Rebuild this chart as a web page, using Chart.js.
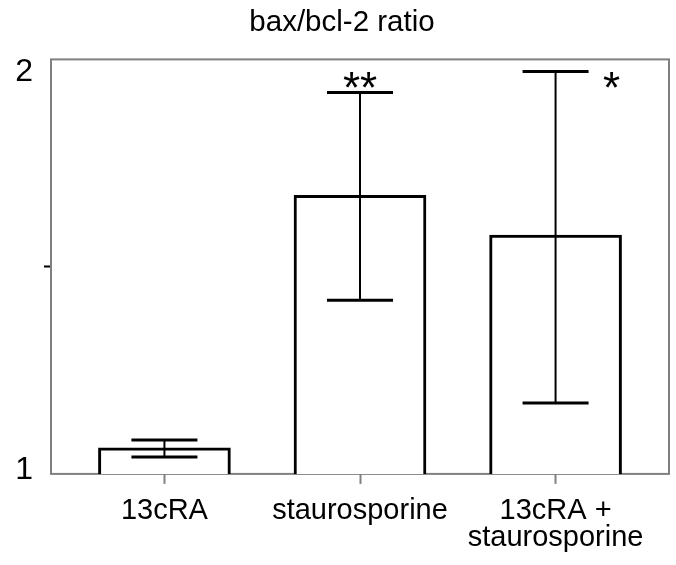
<!DOCTYPE html>
<html lang="en">
<head>
  <meta charset="UTF-8" />
  <title>bax/bcl-2 ratio</title>
  <script src="https://cdn.jsdelivr.net/npm/chart.js"></script>
  <style>
    * { margin: 0; padding: 0; box-sizing: border-box; }
    body { background: #ffffff; }
    .chart-box { width: 676px; height: 565px; }
  </style>
</head>
<body>
  <div class="chart-box">
    <canvas id="ratioChart"></canvas>
  </div>
  <script>
    // groups on the x axis (last one split over two lines)
    const treatments = ['13cRA', 'staurosporine', ['13cRA +', 'staurosporine']];
    // mean bax/bcl-2 ratio and the ends of each error bar
    const ratioMean  = [1.063, 1.672, 1.576];
    const ratioUpper = [1.082, 1.920, 1.971];
    const ratioLower = [1.041, 1.419, 1.171];
    // significance marks per group
    const significance = ['', '**', '*'];
    // y ticks, only the ends are labelled
    const yTicks  = [1, 1.5, 2];
    const yLabels = ['1', '', '2'];

    Chart.defaults.font.family = '"Liberation Sans", Arial, sans-serif';
    Chart.defaults.color = '#000000';

    // grey box round the plot area
    const plotFrame = {
      id: 'plotFrame',
      beforeDatasetsDraw(chart) {
        const { ctx, chartArea: a } = chart;
        ctx.save();
        ctx.strokeStyle = '#808080';
        ctx.lineWidth = 2;
        ctx.strokeRect(a.left, a.top, a.right - a.left, a.bottom - a.top);
        ctx.restore();
      }
    };

    // error bars and asterisks
    const errorBars = {
      id: 'errorBars',
      afterDatasetsDraw(chart) {
        const { ctx, scales: { x, y } } = chart;
        const capHalf = 33;
        ctx.save();
        ctx.strokeStyle = '#000000';
        ratioMean.forEach((m, i) => {
          const cx = x.getPixelForValue(i);
          const top = y.getPixelForValue(ratioUpper[i]);
          const bottom = y.getPixelForValue(ratioLower[i]);
          ctx.lineWidth = 2;
          ctx.beginPath();
          ctx.moveTo(cx, top);
          ctx.lineTo(cx, bottom);
          ctx.stroke();
          ctx.lineWidth = 3;
          ctx.beginPath();
          ctx.moveTo(cx - capHalf, top);
          ctx.lineTo(cx + capHalf, top);
          ctx.moveTo(cx - capHalf, bottom);
          ctx.lineTo(cx + capHalf, bottom);
          ctx.stroke();
        });

        ctx.fillStyle = '#000000';
        ctx.font = '44px "Liberation Sans", Arial, sans-serif';
        ctx.textAlign = 'center';
        ctx.textBaseline = 'middle';
        const rowY = chart.chartArea.top + 31;
        significance.forEach((s, i) => {
          if (!s) return;
          const cx = x.getPixelForValue(i);
          const capY = y.getPixelForValue(ratioUpper[i]);
          // above the cap if there is room, else to its right
          const sx = capY > rowY ? cx : cx + capHalf + 23;
          ctx.fillText(s, sx, rowY);
        });
        ctx.restore();
      }
    };

    const chart = new Chart(document.getElementById('ratioChart'), {
      type: 'bar',
      data: {
        datasets: [{
          data: ratioMean.map((m, i) => ({ x: i, y: m })),
          backgroundColor: '#ffffff',
          borderColor: '#000000',
          borderWidth: 3,
          borderSkipped: false,
          barThickness: 132
        }]
      },
      options: {
        responsive: true,
        maintainAspectRatio: false,
        animation: false,
        layout: { padding: { left: 15, right: 7, top: 0, bottom: 0 } },
        plugins: {
          legend: { display: false },
          tooltip: { enabled: false },
          title: {
            display: true,
            text: 'bax/bcl-2 ratio',
            font: { size: 29.5, weight: 'normal' },
            color: '#000000',
            padding: { top: 5, bottom: 19 }
          }
        },
        scales: {
          x: {
            type: 'linear',
            min: -0.58,
            max: 2.58,
            offset: false,
            afterBuildTicks: s => { s.ticks = treatments.map((t, i) => ({ value: i })); },
            grid: { offset: false, drawOnChartArea: false, tickLength: 10, tickWidth: 2, tickColor: '#808080' },
            border: { display: false },
            ticks: {
              autoSkip: false,
              maxRotation: 0,
              padding: 13,
              font: { size: 29, lineHeight: 0.95 },
              callback: v => treatments[v]
            }
          },
          y: {
            min: 1,
            max: 2,
            beginAtZero: false,
            afterBuildTicks: s => { s.ticks = yTicks.map(v => ({ value: v })); },
            afterFit: s => { s.width = 36; },
            grid: {
              drawOnChartArea: false,
              tickLength: 7,
              tickWidth: 2,
              tickColor: c => (yLabels[c.index] ? 'rgba(0,0,0,0)' : '#000000')
            },
            border: { display: false },
            ticks: {
              padding: 11,
              // top label hangs below the top edge, bottom label sits just above the base
              callback: (v, i) => i === 0 ? [yLabels[i], ''] : i === yTicks.length - 1 ? ['', yLabels[i]] : yLabels[i],
              font: c => ({ size: 32, lineHeight: c.index === 0 ? '8px' : '26px' })
            }
          }
        }
      },
      plugins: [plotFrame, errorBars]
    });
  </script>
</body>
</html>
